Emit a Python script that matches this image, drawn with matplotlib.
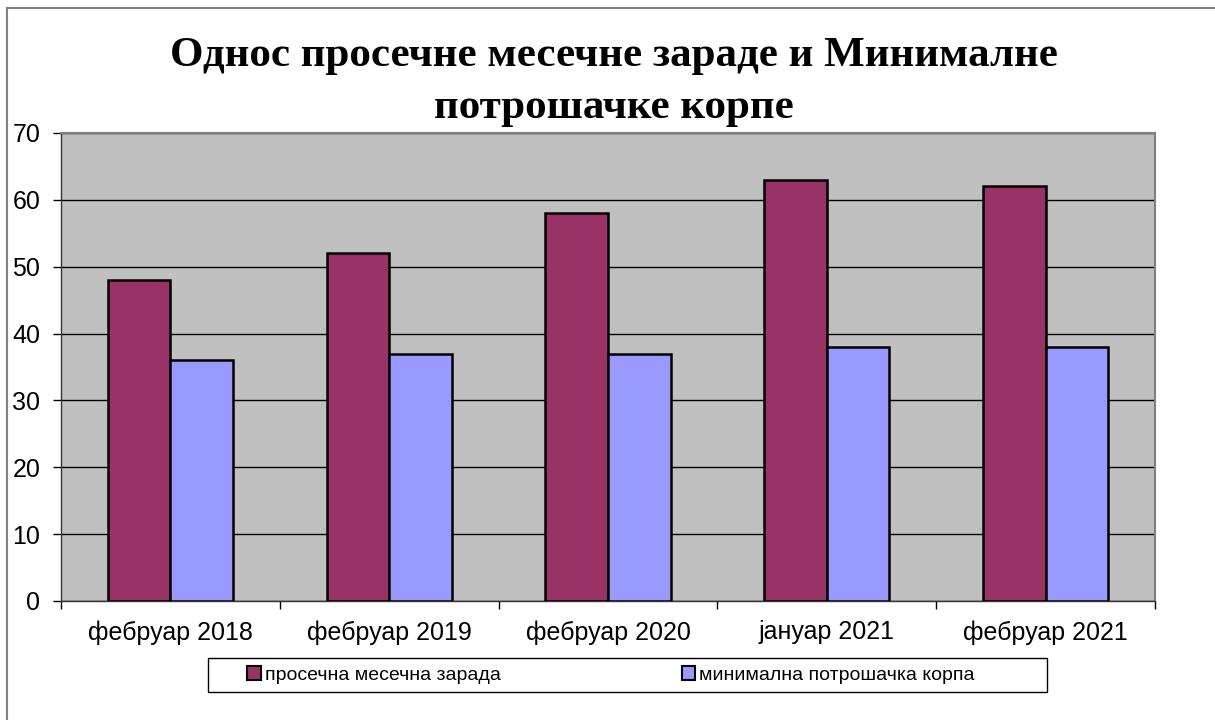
import matplotlib
matplotlib.use("Agg")
import numpy as np
from matplotlib import pyplot as plt
from matplotlib.patches import Rectangle

categories = ["фебруар 2018", "фебруар 2019", "фебруар 2020", "јануар 2021", "фебруар 2021"]
avg_salary = [48, 52, 58, 63, 62]
min_basket = [36, 37, 37, 38, 38]
series_names = ["просечна месечна зарада", "минимална потрошачка корпа"]


def draw_chart():
    fig = plt.figure(figsize=(12.15, 7.2), dpi=100)
    ax = fig.add_axes([61 / 1215, 1 - 601 / 720, (1155 - 61) / 1215, (601 - 133) / 720])

    # outer chart border (only left and top edges are visible)
    fig.add_artist(Rectangle((7 / 1215, -0.1), 1.2, 1 - 8 / 720 + 0.1, transform=fig.transFigure,
                             fill=False, edgecolor="#808080", linewidth=1.5))

    x = np.arange(len(categories))
    w = 0.2857
    ax.bar(x - w / 2, avg_salary, w, color="#993366", edgecolor="black", linewidth=1.8,
           label=series_names[0], zorder=3)
    ax.bar(x + w / 2, min_basket, w, color="#9999FF", edgecolor="black", linewidth=1.8,
           label=series_names[1], zorder=3)

    ax.set_facecolor("#C0C0C0")
    ax.set_xlim(-0.5, len(categories) - 0.5)
    ax.set_ylim(0, 70)
    ax.set_yticks(range(0, 71, 10))
    ax.yaxis.grid(True, color="black", linewidth=1, zorder=1)
    ax.set_axisbelow(True)

    ax.set_xticks(x)
    ax.set_xticklabels(categories)
    ax.set_xticks(np.arange(-0.5, len(categories)), minor=True)
    ax.tick_params(axis="x", which="major", length=0, pad=14, labelsize=18)
    ax.tick_params(axis="x", which="minor", length=6, width=1, direction="out")
    ax.tick_params(axis="y", length=6, width=1, direction="out", labelsize=18, pad=9)

    for side in ["top", "right"]:
        ax.spines[side].set_color("#808080")
        ax.spines[side].set_linewidth(1.5)
    for side in ["left", "bottom"]:
        ax.spines[side].set_color("#333333")
        ax.spines[side].set_linewidth(1)

    fig.text(0.505, 1 - 82 / 720, "Однос просечне месечне зараде и Минималне\nпотрошачке корпе",
             ha="center", va="center", fontsize=31, fontweight="bold",
             family="Liberation Serif", linespacing=1.45)

    # legend box drawn separately, entries placed inside it
    fig.add_artist(Rectangle((208 / 1215, 1 - 692 / 720), (1047 - 208) / 1215, 34 / 720,
                             transform=fig.transFigure, facecolor="white",
                             edgecolor="black", linewidth=1))
    leg = fig.legend(loc="center", bbox_to_anchor=(611 / 1215, 1 - 675 / 720), ncol=2,
                     frameon=False, handlelength=0.7, handleheight=0.7, handletextpad=0.2,
                     columnspacing=9.3, prop={"family": "Liberation Sans", "size": 14})
    for h in leg.legend_handles:
        h.set_linewidth(1.5)

    for lbl in ax.get_xticklabels() + ax.get_yticklabels():
        lbl.set_family("Liberation Sans")

    fig.savefig("out.png", dpi=100)


if __name__ == "__main__":
    draw_chart()
